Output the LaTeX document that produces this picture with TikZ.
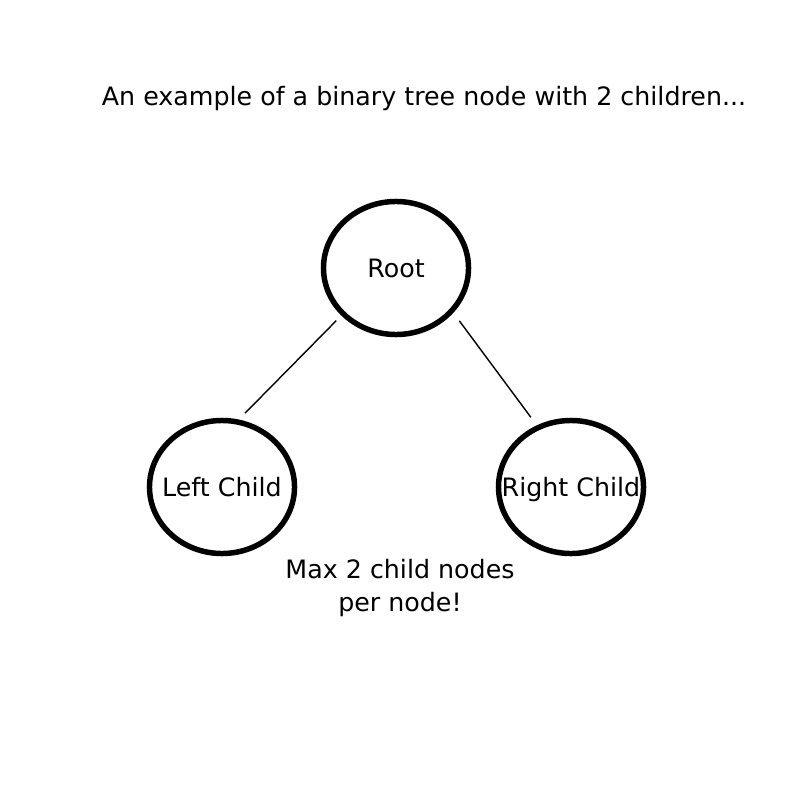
\documentclass[tikz,border=0pt]{standalone}
\usepackage{fontspec}
\setmainfont{DejaVu Sans}
\usetikzlibrary{shapes,positioning}

\begin{document}
\begin{tikzpicture}[x=0.025cm,y=-0.025cm,every node/.style={font=\fontsize{18}{22.8}\selectfont},
    every label/.style={text depth=0pt},
    treenode/.style={ellipse,draw,line width=3.9pt,minimum width=3.625cm,minimum height=3.325cm,inner sep=0pt},
    branch/.style={line width=1pt}]
\useasboundingbox (0,0) rectangle (800,800);
\node (title) at (424,99) {An example of a binary tree node with 2 children...};
\node[treenode,label=center:Root] (root) at (396,268) {};
\node[treenode,label=center:Left Child] (left) at (222,487) {};
\node[treenode,label=center:Right Child] (right) at (571,487) {};
\node[align=center] (note) at (400,588) {Max 2 child nodes\\per node!};

\draw[branch,shorten <=0.18cm,shorten >=0.22cm] (root.221) -- (left.76);
\draw[branch,shorten <=0.25cm,shorten >=0.25cm] (root.322) -- (right.119);

\end{tikzpicture}
\end{document}
